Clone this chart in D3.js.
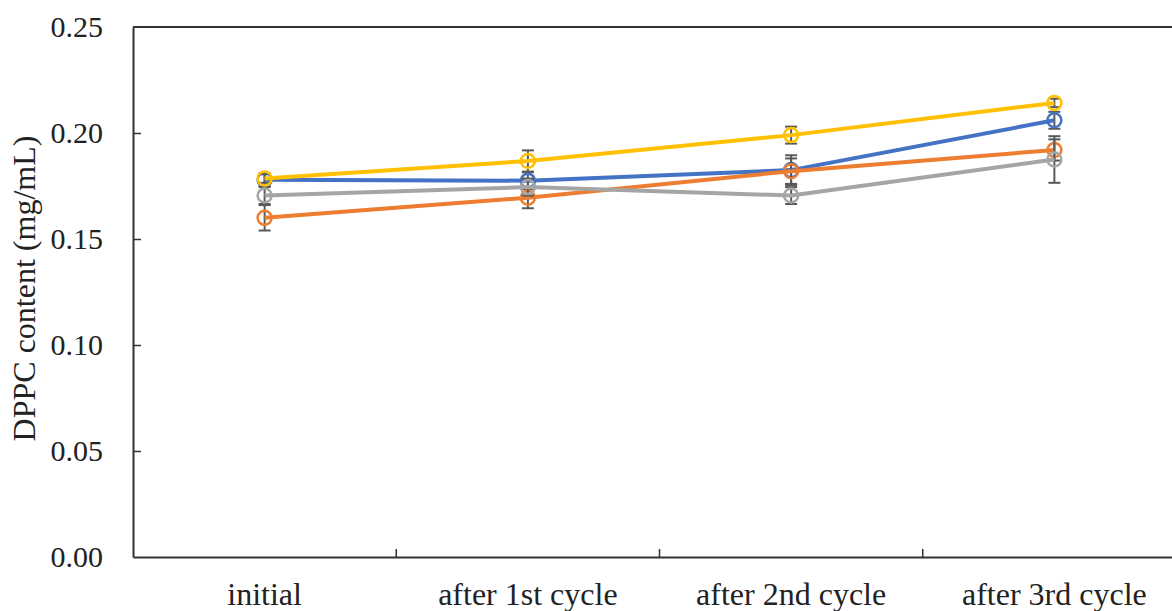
<!DOCTYPE html>
<html>
<head>
<meta charset="utf-8">
<script src="https://cdn.jsdelivr.net/npm/d3@7"></script>
<style>
  html, body { margin: 0; padding: 0; background: #fff; }
  svg { display: block; }
  svg text { font-family: "Liberation Serif", "Tinos", "DejaVu Serif", serif !important; fill: #222; }
</style>
</head>
<body>
<svg id="chart" width="1172" height="611"></svg>
<script>
// Stages of the cycling experiment
const categories = ["initial", "after 1st cycle", "after 2nd cycle", "after 3rd cycle"];

// DPPC content (mg/mL) per series, with standard deviations
const blueValues   = [0.1780, 0.1775, 0.1825, 0.2060];
const blueErrors   = [0.003, 0.004, 0.007, 0.004];
const orangeValues = [0.1600, 0.1695, 0.1820, 0.1920];
const orangeErrors = [0.006, 0.005, 0.006, 0.005];
const grayValues   = [0.1705, 0.1745, 0.1705, 0.1875];
const grayErrors   = [0.004, 0.004, 0.004, 0.011];
const yellowValues = [0.1785, 0.1868, 0.1990, 0.2142];
const yellowErrors = [0.002, 0.005, 0.004, 0.002];

const yTicks = [0, 0.05, 0.10, 0.15, 0.20, 0.25];

const series = [
  { color: "#4472C4", values: blueValues,   errors: blueErrors },
  { color: "#ED7D31", values: orangeValues, errors: orangeErrors },
  { color: "#A5A5A5", values: grayValues,   errors: grayErrors },
  { color: "#FFC000", values: yellowValues, errors: yellowErrors }
];

const serif = "'Liberation Serif', Tinos, 'DejaVu Serif', serif";
const svg = d3.select("#chart");
const plotLeft = 133, plotTop = 27, plotBottom = 557, plotRight = 1186;

const x = d3.scaleBand().domain(categories).range([plotLeft, plotRight]).padding(0);
const y = d3.scaleLinear().domain([0, 0.25]).range([plotBottom, plotTop]);
const cx = c => x(c) + x.bandwidth() / 2;

// Frame: top border
svg.append("line")
  .attr("x1", plotLeft).attr("x2", plotRight).attr("y1", plotTop).attr("y2", plotTop)
  .attr("stroke", "#333").attr("stroke-width", 2);

// Y axis with inward ticks
const yAxis = svg.append("g")
  .attr("transform", `translate(${plotLeft},0)`)
  .call(d3.axisLeft(y).tickValues(yTicks).tickFormat(d3.format(".2f")).tickSizeInner(-8).tickSizeOuter(0).tickPadding(30));
yAxis.attr("font-family", serif);
yAxis.select(".domain").attr("stroke", "#333").attr("stroke-width", 2);
yAxis.selectAll(".tick line").attr("stroke", "#333").attr("stroke-width", 1.5)
  .filter(d => d === 0 || d === 0.25).remove();
yAxis.selectAll(".tick text").attr("font-size", 30).attr("fill", "#222");

// X axis with ticks between categories
const xAxis = svg.append("g")
  .attr("transform", `translate(0,${plotBottom})`)
  .call(d3.axisBottom(x).tickSize(0).tickPadding(25));
xAxis.attr("font-family", serif);
xAxis.select(".domain").attr("stroke", "#333").attr("stroke-width", 2);
xAxis.selectAll(".tick text").attr("font-size", 32).attr("fill", "#222");
svg.append("g").selectAll("line")
  .data(categories.slice(1))
  .join("line")
  .attr("x1", d => x(d)).attr("x2", d => x(d))
  .attr("y1", plotBottom).attr("y2", plotBottom - 8)
  .attr("stroke", "#333").attr("stroke-width", 1.5);

// Y axis title
svg.append("text")
  .attr("transform", `translate(35,${(134 + 443) / 2}) rotate(-90)`)
  .attr("text-anchor", "middle")
  .attr("font-family", serif)
  .attr("font-size", 32)
  .text("DPPC content (mg/mL)");

const line = d3.line().x((d, i) => cx(categories[i])).y(d => y(d));

series.forEach(s => {
  const g = svg.append("g");
  // error bars
  s.values.forEach((v, i) => {
    const px = cx(categories[i]);
    const e = s.errors[i];
    g.append("line")
      .attr("x1", px).attr("x2", px)
      .attr("y1", y(v - e)).attr("y2", y(v + e))
      .attr("stroke", "#595959").attr("stroke-width", 2);
    [v - e, v + e].forEach(t => {
      g.append("line")
        .attr("x1", px - 6).attr("x2", px + 6)
        .attr("y1", y(t)).attr("y2", y(t))
        .attr("stroke", "#595959").attr("stroke-width", 2);
    });
  });
  g.append("path")
    .attr("d", line(s.values))
    .attr("fill", "none")
    .attr("stroke", s.color)
    .attr("stroke-width", 4)
    .attr("stroke-linejoin", "round");
  g.selectAll("circle")
    .data(s.values)
    .join("circle")
    .attr("cx", (d, i) => cx(categories[i]))
    .attr("cy", d => y(d))
    .attr("r", 7)
    .attr("fill", "none")
    .attr("stroke", s.color)
    .attr("stroke-width", 2.5);
});
</script>
</body>
</html>
